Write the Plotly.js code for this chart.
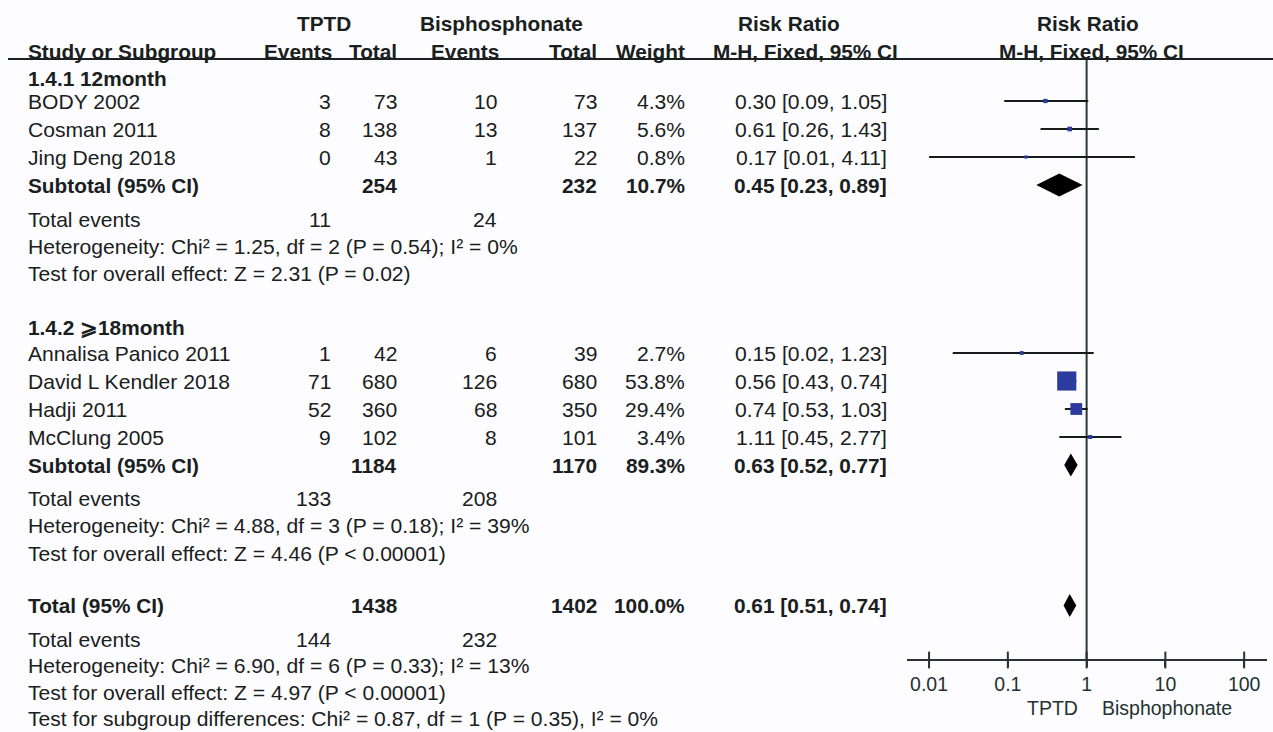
<!DOCTYPE html>
<html>
<head>
<meta charset="utf-8">
<script src="https://cdn.plot.ly/plotly-3.0.1.min.js"></script>
<style>
  html, body { margin: 0; padding: 0; background: #fdfdff; }
  #chart { width: 1273px; height: 732px; }
</style>
</head>
<body>
<div id="chart"></div>
<script>
// ---- Data: subgroup 1.4.1 (12 month) ----
const studies1     = ['BODY 2002', 'Cosman 2011', 'Jing Deng 2018'];
const tptdEvents1  = [3, 8, 0];
const tptdTotal1   = [73, 138, 43];
const bisEvents1   = [10, 13, 1];
const bisTotal1    = [73, 137, 22];
const weight1      = [4.3, 5.6, 0.8];
const rr1          = [0.30, 0.61, 0.17];
const rrLow1       = [0.09, 0.26, 0.01];
const rrHigh1      = [1.05, 1.43, 4.11];
const subtotal1    = { tptdTotal: 254, bisTotal: 232, weight: 10.7, rr: 0.45, lo: 0.23, hi: 0.89, tptdEvents: 11, bisEvents: 24 };
const stats1       = ['Heterogeneity: Chi² = 1.25, df = 2 (P = 0.54); I² = 0%',
                      'Test for overall effect: Z = 2.31 (P = 0.02)'];

// ---- Data: subgroup 1.4.2 (>=18 month) ----
const studies2     = ['Annalisa Panico 2011', 'David L Kendler 2018', 'Hadji 2011', 'McClung 2005'];
const tptdEvents2  = [1, 71, 52, 9];
const tptdTotal2   = [42, 680, 360, 102];
const bisEvents2   = [6, 126, 68, 8];
const bisTotal2    = [39, 680, 350, 101];
const weight2      = [2.7, 53.8, 29.4, 3.4];
const rr2          = [0.15, 0.56, 0.74, 1.11];
const rrLow2       = [0.02, 0.43, 0.53, 0.45];
const rrHigh2      = [1.23, 0.74, 1.03, 2.77];
const subtotal2    = { tptdTotal: 1184, bisTotal: 1170, weight: 89.3, rr: 0.63, lo: 0.52, hi: 0.77, tptdEvents: 133, bisEvents: 208 };
const stats2       = ['Heterogeneity: Chi² = 4.88, df = 3 (P = 0.18); I² = 39%',
                      'Test for overall effect: Z = 4.46 (P < 0.00001)'];

// ---- Data: overall ----
const overall      = { tptdTotal: 1438, bisTotal: 1402, weight: 100.0, rr: 0.61, lo: 0.51, hi: 0.74, tptdEvents: 144, bisEvents: 232 };
const statsAll     = ['Heterogeneity: Chi² = 6.90, df = 6 (P = 0.33); I² = 13%',
                      'Test for overall effect: Z = 4.97 (P < 0.00001)',
                      'Test for subgroup differences: Chi² = 0.87, df = 1 (P = 0.35), I² = 0%'];

const groupLabels  = ['1.4.1 12month', '1.4.2 \u2A7E18month'];
const tickVals     = [0.01, 0.1, 1, 10, 100];
const tickText     = ['0.01', '0.1', '1', '10', '100'];
const favourLabels = ['TPTD', 'Bisphophonate'];

// ---- Page geometry (pixels) ----
const W = 1273, H = 732;
const FONT = 'Liberation Sans, Arial, sans-serif';
const FS = 21.1;      // regular text
const FSB = 20.8;     // bold text
const TXT = '#1a2020';
const ROW = 28;       // spacing of study rows
const STAT = 27.3;    // spacing of summary text lines
const STAT_LAST = 26.4;
const AXIS_Y = 660;
const RULE_Y = 59;
const col = { name: 27, tEv: 332, tTot: 398, bEv: 498, bTot: 598, wt: 686, rr: 888 };

const yHead1 = 23, yHead2 = 51;
const yG1Label = 78, yG1 = 101;
const ySub1 = yG1 + studies1.length * ROW;
const yEv1 = ySub1 + 34;
const yG2Label = yEv1 + 2 * STAT + 53.4;
const yG2 = yG2Label + 26;
const ySub2 = yG2 + studies2.length * ROW;
const yEv2 = ySub2 + 33.5;
const yTot = yEv2 + 2 * STAT + 52.4;
const yEvT = yTot + 34;

const rows1 = studies1.map((_, i) => yG1 + i * ROW);
const rows2 = studies2.map((_, i) => yG2 + i * ROW);

const fmt2 = v => v.toFixed(2);
const ciText = (r, l, h) => `${fmt2(r)} [${fmt2(l)}, ${fmt2(h)}]`;

const annotations = [];
function txt(text, px, py, anchor, bold, extra) {
  annotations.push(Object.assign({
    text: bold ? `<b>${text}</b>` : text,
    xref: 'paper', yref: 'y',
    x: px / W, y: py,
    xanchor: anchor, yanchor: 'middle',
    showarrow: false, borderpad: 0,
    font: { family: FONT, size: bold ? FSB : FS, color: TXT }
  }, extra || {}));
}

// Column headers
txt('TPTD', 324, yHead1, 'center', true);
txt('Bisphosphonate', 501, yHead1, 'center', true);
txt('Risk Ratio', 789, yHead1, 'center', true);
txt('Risk Ratio', 1088, yHead1, 'center', true);
txt('Study or Subgroup', col.name, yHead2, 'left', true);
txt('Events', 333, yHead2, 'right', true);
txt('Total', col.tTot, yHead2, 'right', true);
txt('Events', 500, yHead2, 'right', true);
txt('Total', col.bTot, yHead2, 'right', true);
txt('Weight', col.wt, yHead2, 'right', true);
txt('M-H, Fixed, 95% CI', 805, yHead2, 'center', true);
txt('M-H, Fixed, 95% CI', 1091, yHead2, 'center', true);

function studyRows(names, te, tt, be, bt, w, r, lo, hi, ys) {
  names.forEach((n, i) => {
    const y = ys[i];
    txt(n, col.name, y, 'left', false);
    txt(String(te[i]), col.tEv, y, 'right', false);
    txt(String(tt[i]), col.tTot, y, 'right', false);
    txt(String(be[i]), col.bEv, y, 'right', false);
    txt(String(bt[i]), col.bTot, y, 'right', false);
    txt(w[i].toFixed(1) + '%', col.wt, y, 'right', false);
    txt(ciText(r[i], lo[i], hi[i]), col.rr, y, 'right', false);
  });
}
function summaryRow(label, s, y) {
  txt(label, col.name, y, 'left', true);
  txt(String(s.tptdTotal), col.tTot, y, 'right', true);
  txt(String(s.bisTotal), col.bTot, y, 'right', true);
  txt(s.weight.toFixed(1) + '%', col.wt, y, 'right', true);
  txt(ciText(s.rr, s.lo, s.hi), col.rr, y, 'right', true);
}
function eventsAndStats(s, stats, y, step) {
  txt('Total events', col.name, y, 'left', false);
  txt(String(s.tptdEvents), col.tEv, y, 'right', false);
  txt(String(s.bisEvents), col.bEv, y, 'right', false);
  stats.forEach((t, i) => txt(t, col.name, y + (i + 1) * step, 'left', false));
}

txt(groupLabels[0], col.name, yG1Label, 'left', true);
studyRows(studies1, tptdEvents1, tptdTotal1, bisEvents1, bisTotal1, weight1, rr1, rrLow1, rrHigh1, rows1);
summaryRow('Subtotal (95% CI)', subtotal1, ySub1);
eventsAndStats(subtotal1, stats1, yEv1, STAT);

txt(groupLabels[1], col.name, yG2Label, 'left', true);
studyRows(studies2, tptdEvents2, tptdTotal2, bisEvents2, bisTotal2, weight2, rr2, rrLow2, rrHigh2, rows2);
summaryRow('Subtotal (95% CI)', subtotal2, ySub2);
eventsAndStats(subtotal2, stats2, yEv2, STAT);

summaryRow('Total (95% CI)', overall, yTot);
eventsAndStats(overall, statsAll, yEvT, STAT_LAST);

// Favour labels under the axis
const favFont = { family: FONT, size: 19.5, color: '#243232' };
txt(favourLabels[0], 1052, 708, 'center', false, { font: favFont });
txt(favourLabels[1], 1167, 708, 'center', false, { font: favFont });

// ---- Forest plot traces ----
const allRR   = rr1.concat(rr2);
const allLo   = rrLow1.concat(rrLow2);
const allHi   = rrHigh1.concat(rrHigh2);
const allW    = weight1.concat(weight2);
const allY    = rows1.concat(rows2);

const ciX = [], ciY = [];
allRR.forEach((_, i) => { ciX.push(allLo[i], allHi[i], null); ciY.push(allY[i], allY[i], null); });

const traces = [];
traces.push({
  type: 'scatter', mode: 'lines', x: ciX, y: ciY,
  line: { color: '#161c1c', width: 2 }, hoverinfo: 'skip', showlegend: false
});
traces.push({
  type: 'scatter', mode: 'markers', x: allRR, y: allY,
  marker: { symbol: 'square', color: '#2b3b9e', opacity: 1,
            size: allW.map(w => 3 + 0.3 * w), line: { width: 0 } },
  hoverinfo: 'skip', showlegend: false
});

const DH = 11.5;
[[subtotal1, ySub1], [subtotal2, ySub2], [overall, yTot]].forEach(([s, y]) => {
  traces.push({
    type: 'scatter', mode: 'lines', fill: 'toself', fillcolor: '#000',
    x: [s.lo, s.rr, s.hi, s.rr, s.lo], y: [y, y - DH, y, y + DH, y],
    line: { width: 0, color: '#000' }, hoverinfo: 'skip', showlegend: false
  });
});

// Tick marks crossing the axis line
traces.push({
  type: 'scatter', mode: 'markers', x: tickVals, y: tickVals.map(() => AXIS_Y),
  marker: { symbol: 'line-ns-open', size: 12, color: '#2a3232', opacity: 1,
            line: { width: 2, color: '#2a3232' } },
  hoverinfo: 'skip', showlegend: false
});

const layout = {
  width: W, height: H,
  margin: { l: 0, r: 0, t: 0, b: 0 },
  paper_bgcolor: '#fdfdff', plot_bgcolor: 'rgba(0,0,0,0)',
  showlegend: false,
  xaxis: {
    type: 'log', range: [-2.28, 2.29],
    domain: [907 / W, 1267 / W],
    anchor: 'free', position: (H - AXIS_Y) / H,
    showline: true, linecolor: '#2a3232', linewidth: 2,
    ticks: 'outside', ticklen: 6, tickwidth: 2, tickcolor: '#2a3232',
    tickvals: tickVals, ticktext: tickText,
    tickfont: { family: FONT, size: 19.5, color: '#243232' },
    ticklabelstandoff: 1,
    showgrid: false, zeroline: false, fixedrange: true
  },
  yaxis: {
    range: [H, 0], domain: [0, 1], visible: false,
    showgrid: false, zeroline: false, fixedrange: true
  },
  shapes: [
    { type: 'line', xref: 'paper', yref: 'y', x0: 8 / W, x1: 1, y0: RULE_Y, y1: RULE_Y,
      line: { color: '#1a2020', width: 2 } },
    { type: 'line', xref: 'x', yref: 'y', x0: 1, x1: 1, y0: RULE_Y, y1: AXIS_Y,
      line: { color: '#2a3838', width: 2 }, layer: 'below' }
  ],
  annotations: annotations
};

Plotly.newPlot('chart', traces, layout, { staticPlot: true, displayModeBar: false });
</script>
</body>
</html>
